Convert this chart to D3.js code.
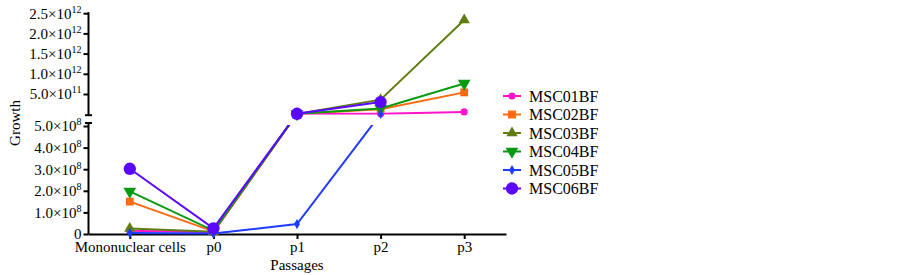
<!DOCTYPE html>
<html>
<head>
<meta charset="utf-8">
<script src="https://cdn.jsdelivr.net/npm/d3@7"></script>
<style>
  body { margin: 0; background: #fff; }
  svg text { font-family: "Liberation Serif", "DejaVu Serif", serif !important; }
</style>
</head>
<body>
<div id="chart"></div>
<script>
// categories and series
const categories = ["Mononuclear cells", "p0", "p1", "p2", "p3"];
const seriesNames = ["MSC01BF", "MSC02BF", "MSC03BF", "MSC04BF", "MSC05BF", "MSC06BF"];

const msc01 = [1.5e7, 8e6, 1e10, 1e10, 5.7e10];
const msc02 = [1.5e8, 1.2e7, 1e10, 1.2e11, 5.4e11];
const msc03 = [2.5e7, 1e7, 1e10, 3.6e11, 2.33e12];
const msc04 = [1.97e8, 1.6e7, 1e10, 1.4e11, 7.6e11];
const msc05 = [5e6, 2e6, 4.6e7, 5e9, null];
const msc06 = [3.02e8, 2.6e7, 1e10, 3.0e11, null];

const lowTicks = [0, 1e8, 2e8, 3e8, 4e8, 5e8];
const highTicks = [5e11, 1e12, 1.5e12, 2e12, 2.5e12];

const allSeries = [msc01, msc02, msc03, msc04, msc05, msc06];
const colors = ["#ff14cc", "#ff6a10", "#5f7d10", "#0a9a12", "#1e3cff", "#5a08ff"];
const symbols = [
  {type: d3.symbolCircle, size: 40, rot: 0},
  {type: d3.symbolSquare, size: 62, rot: 0},
  {type: d3.symbolTriangle, size: 55, rot: 0},
  {type: d3.symbolTriangle, size: 70, rot: 180},
  {type: d3.symbolDiamond, size: 30, rot: 0},
  {type: d3.symbolCircle, size: 120, rot: 0}
];

const serif = "'Liberation Serif', 'DejaVu Serif', serif";

const svg = d3.select("#chart").append("svg")
    .attr("width", 902)
    .attr("height", 275);

const x = d3.scalePoint()
    .domain(categories)
    .range([88, 506])
    .padding(0.5);

// broken y axis: two segments
const yLow = d3.scaleLinear().domain([0, 5e8]).range([234, 126]);
const yHigh = d3.scaleLinear().domain([0, 2.5e12]).range([114.2, 13.2]);
const lowMax = 5e8;
function y(v) { return v <= lowMax ? yLow(v) : yHigh(v); }

function sciLabel(sel) {
  sel.each(function(d) {
    const t = d3.select(this);
    t.text(null);
    if (d === 0) { t.text("0"); return; }
    const exp = Math.floor(Math.log10(d) + 1e-9);
    const mant = (d / Math.pow(10, exp)).toFixed(1);
    t.append("tspan").text(mant + "\u00d710");
    t.append("tspan").style("font-size", "10px").attr("dy", -6).text(exp);
  });
}

const axisX = 88.5;

// lower y axis
const gLow = svg.append("g").attr("transform", "translate(" + axisX + ",0)")
    .call(d3.axisLeft(yLow).tickValues(lowTicks).tickSize(5).tickSizeOuter(0).tickPadding(2));
gLow.select(".domain").remove();
gLow.selectAll(".tick text").call(sciLabel);

// upper y axis
const gHigh = svg.append("g").attr("transform", "translate(" + axisX + ",0)")
    .call(d3.axisLeft(yHigh).tickValues(highTicks).tickSize(5).tickSizeOuter(0).tickPadding(2));
gHigh.select(".domain").remove();
gHigh.selectAll(".tick text").call(sciLabel);

svg.selectAll(".tick line").attr("stroke", "#000").attr("stroke-width", 2);
svg.selectAll(".tick text").style("font-size", "15px").style("font-family", serif).attr("fill", "#000");

// axis lines for each segment with caps at the break
const lowTop = yLow(lowMax) - 3;
const highBottom = yHigh(0) + 1;
svg.append("line").attr("x1", axisX).attr("x2", axisX)
    .attr("y1", yLow(0)).attr("y2", lowTop)
    .attr("stroke", "#000").attr("stroke-width", 2);
svg.append("line").attr("x1", axisX - 3.5).attr("x2", axisX + 3.5)
    .attr("y1", lowTop).attr("y2", lowTop)
    .attr("stroke", "#000").attr("stroke-width", 2);
svg.append("line").attr("x1", axisX).attr("x2", axisX)
    .attr("y1", yHigh(2.5e12) - 1).attr("y2", highBottom)
    .attr("stroke", "#000").attr("stroke-width", 2);
svg.append("line").attr("x1", axisX - 3.5).attr("x2", axisX + 3.5)
    .attr("y1", highBottom).attr("y2", highBottom)
    .attr("stroke", "#000").attr("stroke-width", 2);

// x axis
const gx = svg.append("g").attr("transform", "translate(0," + yLow(0) + ")")
    .call(d3.axisBottom(x).tickSize(5).tickSizeOuter(0).tickPadding(2));
gx.select(".domain").attr("stroke", "#000").attr("stroke-width", 2);
gx.selectAll(".tick line").attr("stroke", "#000").attr("stroke-width", 2);
gx.selectAll(".tick text").style("font-size", "15px").style("font-family", serif).attr("fill", "#000");

// axis titles
svg.append("text")
    .attr("x", (x.range()[0] + x.range()[1]) / 2)
    .attr("y", 270)
    .attr("text-anchor", "middle")
    .style("font-size", "15px")
    .text("Passages");

svg.append("text")
    .attr("transform", "translate(20,123) rotate(-90)")
    .attr("text-anchor", "middle")
    .style("font-size", "15px")
    .text("Growth");

// clip regions for the two segments
const defs = svg.append("defs");
defs.append("clipPath").attr("id", "clipLow").append("rect")
    .attr("x", 80).attr("y", yLow(lowMax) - 1)
    .attr("width", 460).attr("height", yLow(0) - yLow(lowMax) + 10);
defs.append("clipPath").attr("id", "clipHigh").append("rect")
    .attr("x", 80).attr("y", 0)
    .attr("width", 460).attr("height", yHigh(0) + 0.5);

const line = d3.line()
    .defined(d => d.v != null)
    .x(d => x(d.c))
    .y(d => y(d.v));

allSeries.forEach(function(vals, i) {
  const pts = categories.map((c, j) => ({c: c, v: vals[j]}));
  const g = svg.append("g");
  ["clipLow", "clipHigh"].forEach(function(cid) {
    g.append("path")
        .attr("clip-path", "url(#" + cid + ")")
        .attr("d", line(pts))
        .attr("fill", "none")
        .attr("stroke", colors[i])
        .attr("stroke-width", 2);
  });
  g.selectAll("path.pt")
      .data(pts.filter(d => d.v != null))
      .enter().append("path")
      .attr("class", "pt")
      .attr("transform", d => "translate(" + x(d.c) + "," + y(d.v) + ") rotate(" + symbols[i].rot + ")")
      .attr("d", d3.symbol().type(symbols[i].type).size(symbols[i].size))
      .attr("fill", colors[i]);
});

// legend
const legend = svg.append("g").attr("transform", "translate(503,96)");
seriesNames.forEach(function(name, i) {
  const row = legend.append("g").attr("transform", "translate(0," + (i * 18.5) + ")");
  row.append("line").attr("x1", 0).attr("x2", 18)
      .attr("stroke", colors[i]).attr("stroke-width", 2);
  row.append("path")
      .attr("transform", "translate(9,0) rotate(" + symbols[i].rot + ")")
      .attr("d", d3.symbol().type(symbols[i].type).size(symbols[i].size))
      .attr("fill", colors[i]);
  row.append("text")
      .attr("x", 26)
      .attr("y", 5.5)
      .style("font-size", "16px")
      .text(name);
});
</script>
</body>
</html>
